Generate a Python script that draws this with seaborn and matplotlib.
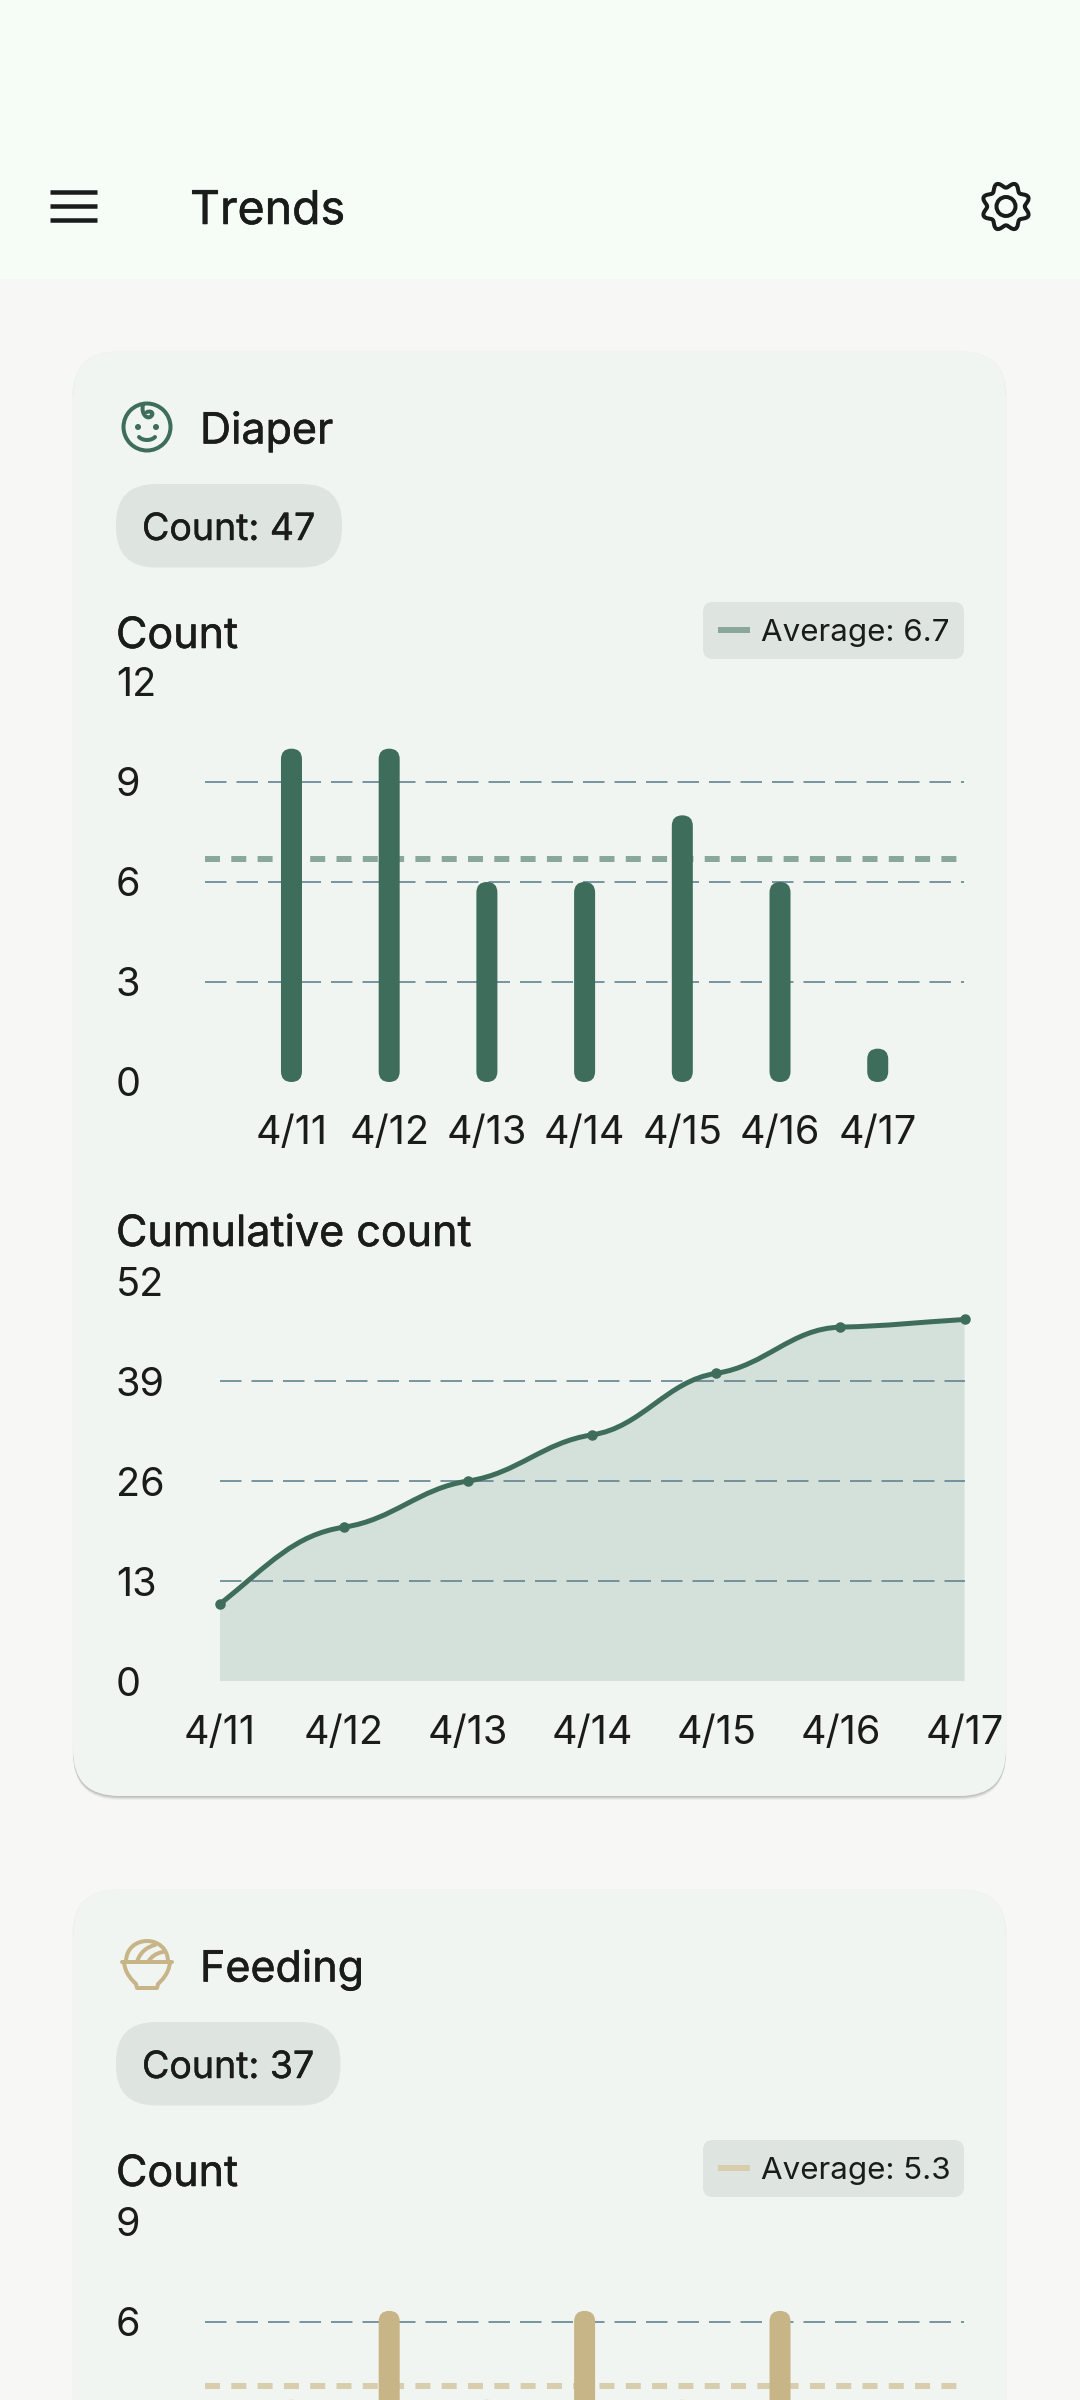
import matplotlib
matplotlib.use("Agg")
import matplotlib.pyplot as plt
import matplotlib.patheffects as pe
import numpy as np
import seaborn as sns
from matplotlib.patches import Circle, FancyBboxPatch, PathPatch
from matplotlib.path import Path

# --- data ---
DATES = ["4/11", "4/12", "4/13", "4/14", "4/15", "4/16", "4/17"]
DIAPER_COUNTS = [10, 10, 6, 6, 8, 6, 1]
DIAPER_CUMULATIVE = [10, 20, 26, 32, 40, 46, 47]
DIAPER_AVG = 6.7
DIAPER_TICKS = [0, 3, 6, 9, 12]
CUM_TICKS = [0, 13, 26, 39, 52]
FEEDING_COUNTS = [5, 7, 5, 7, 5, 7, 1]
FEEDING_AVG = 5.3
# the lower ticks of this chart sit below the screen
FEEDING_TICKS = [6.75, 9]
FEEDING_TICK_LABELS = ["6", "9"]

# --- colours ---
HEADER = "#F5FDF6"
PAGE = "#F7F7F5"
CARD = "#F0F5F1"
CHIP = "#DEE4E0"
INK = "#1A1C1A"
GREEN = "#3F6D5B"
GREEN_AVG = "#8AA899"
GREEN_FILL = "#D4E1DA"
TAN = "#C8B587"
TAN_AVG = "#D8CEAE"
GRID = "#5E7F8E"

W, H = 1080, 2400
PX = 0.72  # px to pt at dpi 100

sns.set_theme(style="white")
plt.rcParams["font.family"] = ["Inter", "DejaVu Sans"]
plt.rcParams["lines.scale_dashes"] = False

fig = plt.figure(figsize=(W / 100, H / 100), dpi=100, facecolor=PAGE)
bg = fig.add_axes([0, 0, 1, 1])
bg.set_xlim(0, W)
bg.set_ylim(H, 0)
bg.axis("off")


def round_box(x0, y0, x1, y1, r, color, **kw):
    bg.add_patch(FancyBboxPatch((x0, y0), x1 - x0, y1 - y0,
                                boxstyle=f"round,pad=0,rounding_size={r}",
                                fc=color, ec="none", **kw))


def stroke(verts, codes, color, lw=4):
    bg.add_patch(PathPatch(Path(verts, codes), fc="none", ec=color, lw=lw * PX,
                           capstyle="round", joinstyle="round"))


def label(x, y, s, px, ha="left", color=INK, heavy=0.0):
    t = bg.text(x, y, s, fontsize=px * PX, ha=ha, va="center_baseline", color=color)
    if heavy:
        # Inter is only installed as regular, thicken it up to medium
        t.set_path_effects([pe.withStroke(linewidth=heavy, foreground=color)])


def draw_card(top, bottom):
    for drop, alpha in [(4, 0.04), (3, 0.06), (2, 0.08), (1, 0.06)]:
        round_box(73, top + drop, 1006, bottom + drop, 46, "#000000", alpha=alpha)
    round_box(72, top - 1, 1007, bottom, 46, "#000000", alpha=0.02)
    round_box(73, top, 1006, bottom, 46, CARD)


def card_text(top, title, count, avg, avg_color):
    dy = top - 352
    label(200, 427 + dy, title, 43, heavy=0.4)
    label(142, 526 + dy, f"Count: {count}", 37.5, heavy=0.3)
    label(116, 632 + dy, "Count", 43, heavy=0.4)
    round_box(703, 602 + dy, 964, 659 + dy, 10, CHIP)
    bg.plot([718, 750], [630 + dy, 630 + dy], color=avg_color, lw=6 * PX, solid_capstyle="butt")
    label(761, 630 + dy, f"Average: {avg}", 31.3)


def baby_icon(cx, cy):
    bg.add_patch(Circle((cx, cy), 23.5, fc="none", ec=GREEN, lw=4 * PX))
    for ex in (-9, 9):
        bg.add_patch(Circle((cx + ex, cy), 3, fc=GREEN, ec="none"))
    m, c = Path.MOVETO, Path.CURVE4
    stroke([(cx - 8, cy + 10), (cx - 4, cy + 14), (cx + 4, cy + 14), (cx + 8, cy + 10)], [m, c, c, c], GREEN)
    stroke([(cx - 4, cy - 22), (cx - 6, cy - 14), (cx - 1, cy - 8), (cx + 3, cy - 10),
            (cx + 7, cy - 12), (cx + 6, cy - 17), (cx, cy - 15)], [m, c, c, c, c, c, c], GREEN)


def bowl_icon(cx, cy):
    top = cy - 3
    m, l, c = Path.MOVETO, Path.LINETO, Path.CURVE4
    stroke([(cx - 25, top), (cx + 25, top)], [m, l], TAN)
    stroke([(cx - 23, top), (cx - 22, top + 12), (cx - 14, top + 19), (cx - 11, top + 22),
            (cx - 10, top + 26), (cx + 10, top + 26), (cx + 11, top + 22),
            (cx + 14, top + 19), (cx + 22, top + 12), (cx + 23, top)],
           [m, c, c, c, l, l, l, c, c, c], TAN)
    stroke([(cx - 21, top), (cx - 21, top - 28), (cx + 21, top - 28), (cx + 21, top)], [m, c, c, c], TAN)
    stroke([(cx - 10, top), (cx - 7, top - 10), (cx, top - 15), (cx + 8, top - 17)], [m, c, c, c], TAN)
    stroke([(cx + 1, top), (cx + 4, top - 5), (cx + 9, top - 9), (cx + 16, top - 10)], [m, c, c, c], TAN)


def gear_icon(cx, cy):
    theta = np.linspace(0, 2 * np.pi, 241)
    r = 21.5 + 2.7 * np.cos(8 * theta - np.pi)
    bg.plot(cx + r * np.cos(theta), cy + r * np.sin(theta), color=INK, lw=4 * PX)
    bg.add_patch(Circle((cx, cy), 9.5, fc="none", ec=INK, lw=4 * PX))


def chart_axes(left, right, top, bottom):
    ax = fig.add_axes([left / W, 1 - bottom / H, (right - left) / W, (bottom - top) / H])
    ax.patch.set_alpha(0)
    sns.despine(ax=ax, left=True, bottom=True)
    return ax


def style_ticks(ax, left, yticks, ylabels):
    ax.set_yticks(yticks, ylabels)
    ax.tick_params(axis="y", length=0, pad=(left - 116) * PX, labelsize=39.5 * PX, labelcolor=INK)
    ax.tick_params(axis="x", length=0, pad=33.5 * PX, labelsize=39.5 * PX, labelcolor=INK)
    for t in ax.get_yticklabels():
        t.set_ha("left")
        t.set_va("center_baseline")
    ax.set_xlabel("")
    ax.set_ylabel("")


def grid_lines(ax, values, z):
    for v in values:
        if 0 < v:
            ax.axhline(v, color=GRID, lw=1.6 * PX, dashes=(21.5 * PX, 10 * PX), zorder=z)


def bar_chart(top, bottom, values, avg, ymax, yticks, ylabels, color, avg_color, show_dates=True):
    ax = chart_axes(205, 964.5, top, bottom)
    sns.barplot(x=DATES, y=values, color=color, saturation=1, width=0.215, ax=ax, zorder=3)
    ax.set_xlim(-0.885, 6.888)
    ax.set_ylim(0, ymax)
    style_ticks(ax, 205, yticks, ylabels)
    if not show_dates:
        ax.set_xticks([])
    grid_lines(ax, yticks[:-1], 1)
    ax.axhline(avg, color=avg_color, lw=6 * PX, dashes=(15 * PX, 11.3 * PX), zorder=2)
    # round the bar ends
    ux = 759.5 / 7.773
    uy = (bottom - top) / ymax
    for bar in list(ax.patches):
        x, y, w, h = bar.get_x(), bar.get_y(), bar.get_width(), bar.get_height()
        bar.remove()
        ax.add_patch(FancyBboxPatch((x, y), w, h, boxstyle=f"round,pad=0,rounding_size={10.5 / ux}",
                                    mutation_aspect=ux / uy, fc=color, ec="none", zorder=3))
    return ax


def smooth_path(xs, ys):
    # bezier through the points, shallow tangent on each node like the app's curve
    slopes = np.diff(ys) / np.diff(xs)
    tang = np.zeros(len(xs))
    tang[0] = 1.3 * slopes[0]
    tang[-1] = slopes[-1]
    for i in range(1, len(xs) - 1):
        tang[i] = 0.4 * min(slopes[i - 1], slopes[i])
    verts, codes = [(xs[0], ys[0])], [Path.MOVETO]
    for i in range(len(xs) - 1):
        d = (xs[i + 1] - xs[i]) * 0.4
        verts += [(xs[i] + d, ys[i] + tang[i] * d), (xs[i + 1] - d, ys[i + 1] - tang[i + 1] * d),
                  (xs[i + 1], ys[i + 1])]
        codes += [Path.CURVE4] * 3
    return verts, codes


def line_chart(top, bottom, values, yticks, color, fill):
    ax = chart_axes(220, 964.5, top, bottom)
    xs = np.arange(len(values))
    verts, codes = smooth_path(xs, values)
    area = [(xs[0], 0)] + verts + [(xs[-1], 0), (xs[0], 0)]
    area_codes = [Path.MOVETO, Path.LINETO] + codes[1:] + [Path.LINETO, Path.CLOSEPOLY]
    ax.add_patch(PathPatch(Path(area, area_codes), fc=fill, ec="none", zorder=1))
    grid_lines(ax, yticks[:-1], 2)
    ax.add_patch(PathPatch(Path(verts, codes), fc="none", ec=color, lw=5 * PX, zorder=3, clip_on=False))
    sns.scatterplot(x=xs, y=values, color=color, s=(10.5 * PX) ** 2, linewidth=0, ax=ax, zorder=4, clip_on=False)
    ax.set_xlim(0, 6)
    ax.set_ylim(yticks[0], yticks[-1])
    ax.set_xticks(xs, DATES)
    style_ticks(ax, 220, yticks, [str(v) for v in yticks])
    return ax


# --- app bar ---
bg.add_patch(plt.Rectangle((0, 0), W, 279, fc=HEADER, ec="none"))
for y in (192, 206, 220):
    bg.plot([50, 97], [y, y], color=INK, lw=4.5 * PX, solid_capstyle="butt")
label(190, 207, "Trends", 46.5, heavy=0.4)
gear_icon(1006, 206.5)

# --- diaper card ---
draw_card(352, 1796)
baby_icon(147, 427)
round_box(116, 484, 342, 567.5, 40, CHIP)
card_text(352, "Diaper", 47, DIAPER_AVG, GREEN_AVG)
bar_chart(682, 1082, DIAPER_COUNTS, DIAPER_AVG, 12, DIAPER_TICKS, [str(v) for v in DIAPER_TICKS], GREEN, GREEN_AVG)
label(116, 1230, "Cumulative count", 43, heavy=0.4)
line_chart(1281, 1681, DIAPER_CUMULATIVE, CUM_TICKS, GREEN, GREEN_FILL)

# --- feeding card, runs off the bottom of the screen ---
draw_card(1890, 2700)
bowl_icon(147, 1965)
round_box(116, 2022, 340.5, 2105.5, 40, CHIP)
card_text(1890, "Feeding", 37, FEEDING_AVG, TAN_AVG)
bar_chart(2222, 2622, FEEDING_COUNTS, FEEDING_AVG, 9, FEEDING_TICKS, FEEDING_TICK_LABELS, TAN, TAN_AVG, show_dates=False)

fig.savefig("out.png", dpi=100, facecolor=PAGE)
